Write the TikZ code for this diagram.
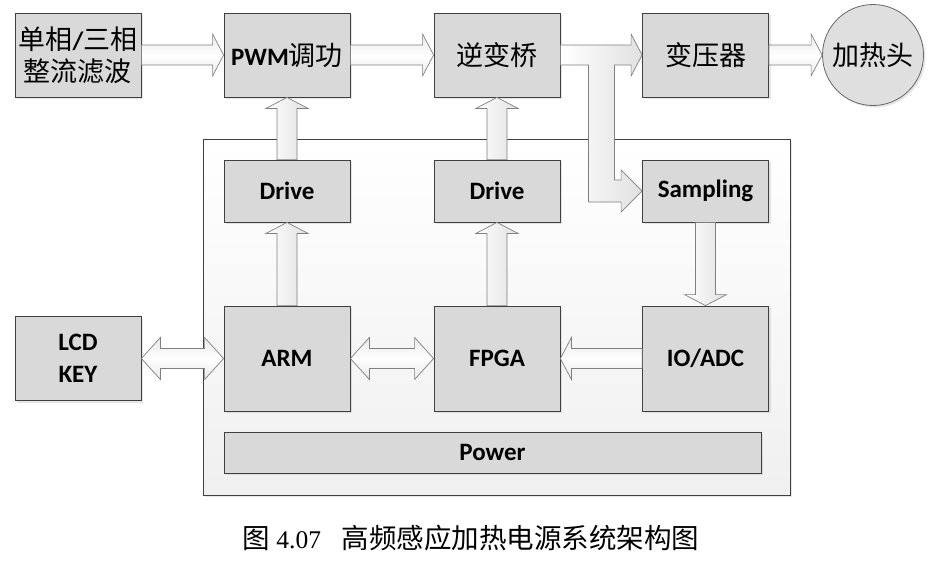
\documentclass[tikz,border=0pt]{standalone}
\usepackage{fontspec}
\setmainfont{Carlito}
\newfontfamily\cjk[Scale=1.08]{Noto Sans CJK SC}
\newfontfamily\capfont{Liberation Serif}
\usepackage{tikz}
\usetikzlibrary{positioning, calc, shadows}
\newcommand{\zh}[1]{{\cjk\mdseries #1}}
% block arrow: start, tip
\newcommand{\barr}[3][]{%
    \coordinate (bs) at #2;
    \coordinate (bt) at #3;
    \coordinate (bb) at ($(bt)!11pt!(bs)$);
    \path[barrow,#1] ($(bs)!10pt!90:(bt)$) -- ($(bb)!10pt!90:(bt)$) -- ($(bb)!21pt!90:(bt)$) -- (bt)
        -- ($(bb)!21pt!-90:(bt)$) -- ($(bb)!10pt!-90:(bt)$) -- ($(bs)!10pt!-90:(bt)$) -- cycle;
}
% double block arrow
\newcommand{\darr}[3][]{%
    \coordinate (ds) at #2;
    \coordinate (dt) at #3;
    \coordinate (da) at ($(ds)!19pt!(dt)$);
    \coordinate (db) at ($(dt)!19pt!(ds)$);
    \path[barrow,#1] (ds) -- ($(da)!21pt!90:(dt)$) -- ($(da)!10pt!90:(dt)$) -- ($(db)!10pt!90:(dt)$)
        -- ($(db)!21pt!90:(dt)$) -- (dt) -- ($(db)!21pt!-90:(dt)$) -- ($(db)!10pt!-90:(dt)$)
        -- ($(da)!10pt!-90:(dt)$) -- ($(da)!21pt!-90:(dt)$) -- cycle;
}
\tikzset{
    shd/.style={drop shadow={shadow xshift=2pt, shadow yshift=-2pt, opacity=0.2}},
    blk/.style={draw=black!75, fill=gray!30, line width=0.8pt, inner sep=0pt, align=center,
        minimum width=126pt, font=\fontsize{25}{32}\selectfont\bfseries, shd},
    barrow/.style={draw=black!50, line width=0.7pt},
    hshade/.style={top color=black!9, bottom color=black!9, middle color=white},
    vshade/.style={left color=white, right color=black!12},
}
\begin{document}
\begin{tikzpicture}[x=1pt, y=-1pt]
\useasboundingbox (0,0) rectangle (934,560);
\node[draw=black!75, line width=0.8pt, top color=white, bottom color=black!6,
    minimum width=587pt, minimum height=356pt, shd] (sys) at (496.5,317) {};

\node[blk, minimum height=84pt] (rect) at (78,55) {\zh{单相}/\zh{三相}\\\zh{整流滤波}};
\node[blk, minimum height=84pt] (pwm) at (287,55) {PWM\zh{调功}};
\node[blk, minimum height=84pt] (inv) at (497,55) {\zh{逆变桥}};
\node[blk, minimum height=84pt] (trf) at (705.5,55) {\zh{变压器}};
\node[circle, draw=black!60, line width=0.8pt, fill=gray!25, minimum size=101pt, inner sep=0pt,
    font=\fontsize{25}{32}\selectfont, shd] (heat) at (873,55) {\zh{加热头}};

\node[blk, minimum height=62pt] (drv1) at (287,191) {Drive};
\node[blk, minimum height=62pt] (drv2) at (497,191) {Drive};
\node[blk, minimum height=62pt] (smp) at (705.5,191) {Sampling};

\node[blk, minimum height=84pt] (lcd) at (78,358.5) {LCD\\KEY};
\node[blk, minimum height=105pt] (arm) at (287,358.5) {ARM};
\node[blk, minimum height=105pt] (fpga) at (497,358.5) {FPGA};
\node[blk, minimum height=105pt] (io) at (705.5,358.5) {IO/ADC};
\node[blk, minimum width=537pt, minimum height=41pt] (pwr) at (492.5,452.5) {Power};

\barr[hshade]{(rect.east)}{(pwm.west)}
\barr[hshade]{(pwm.east)}{(inv.west)}
\barr[hshade]{(trf.east)}{(heat.west)}
\barr[vshade]{(drv1.north)}{(pwm.south)}
\barr[vshade]{(arm.north)}{(drv1.south)}
\barr[vshade]{(drv2.north)}{(inv.south)}
\barr[vshade]{(fpga.north)}{(drv2.south)}
\barr[vshade]{(smp.south)}{(io.north)}
\barr[hshade]{(io.west)}{(fpga.east)}
\darr[hshade]{(lcd.east)}{(arm.west)}
\darr[hshade]{(arm.east)}{(fpga.west)}

\path[barrow, vshade] ($(inv.east)+(0,-10)$) -- ($(trf.west)+(-11,-10)$) -- ($(trf.west)+(-11,-21)$)
    -- (trf.west) -- ($(trf.west)+(-11,21)$) -- ($(trf.west)+(-11,10)$) -- ($(inv.east)+(54,10)$)
    -- ($(inv.east |- smp.west)+(54,-11)$) -- ($(smp.west)+(-21,-11)$) -- ($(smp.west)+(-21,-21)$)
    -- (smp.west) -- ($(smp.west)+(-21,21)$) -- ($(smp.west)+(-21,11)$)
    -- ($(inv.east |- smp.west)+(28,11)$) -- ($(inv.east)+(28,10)$) -- ($(inv.east)+(0,10)$) -- cycle;

\node[font=\capfont\fontsize{25.5}{30}\selectfont] (cap) at (471,538)
    {\zh{图} 4.07\hspace{0.8em}\zh{高频感应加热电源系统架构图}};
\end{tikzpicture}
\end{document}
